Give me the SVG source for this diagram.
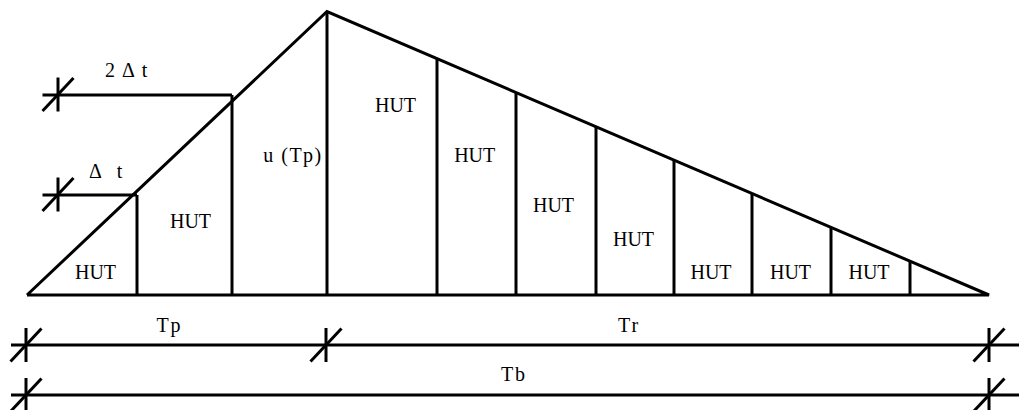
<svg xmlns="http://www.w3.org/2000/svg" width="1019" height="410" viewBox="0 0 1019 410">
<style>
.ln{stroke:#000;stroke-width:3;fill:none}
.tx{font-family:"Liberation Serif","Times New Roman",serif;font-size:20px;fill:#000}
.c{text-anchor:middle}
</style>
<defs>
<g id="tick"><line class="ln" x1="0" y1="-17" x2="0" y2="17"/><line class="ln" x1="-15.5" y1="16.5" x2="15.5" y2="-16.5"/></g>
</defs>
<rect width="1019" height="410" fill="#fff"/>
<g id="hydrograph">
<polyline class="ln" points="27,295 327,11.5 989,295 27,295"/>
</g>
<g id="ordinates">
<line class="ln" x1="137" y1="195" x2="137" y2="295"/>
<line class="ln" x1="232" y1="95" x2="232" y2="295"/>
<line class="ln" x1="327" y1="11.5" x2="327" y2="295"/>
<line class="ln" x1="437" y1="59" x2="437" y2="295"/>
<line class="ln" x1="516" y1="93" x2="516" y2="295"/>
<line class="ln" x1="596" y1="127" x2="596" y2="295"/>
<line class="ln" x1="674" y1="160" x2="674" y2="295"/>
<line class="ln" x1="752" y1="194" x2="752" y2="295"/>
<line class="ln" x1="831" y1="227.5" x2="831" y2="295"/>
<line class="ln" x1="910" y1="261" x2="910" y2="295"/>
</g>
<g id="dt-marks">
<line class="ln" x1="42.5" y1="95" x2="232" y2="95"/>
<use href="#tick" x="58" y="94.5"/>
<line class="ln" x1="42.5" y1="195" x2="137" y2="195"/>
<use href="#tick" x="58" y="194.5"/>
</g>
<g id="dimensions">
<line class="ln" x1="11" y1="345" x2="1019" y2="345"/>
<use href="#tick" x="26" y="345"/>
<use href="#tick" x="326" y="345"/>
<use href="#tick" x="989" y="345"/>
<line class="ln" x1="11" y1="395" x2="1019" y2="395"/>
<use href="#tick" x="26" y="395"/>
<use href="#tick" x="989" y="395"/>
</g>
<g id="labels">
<text class="tx c" x="95.5" y="279">HUT</text>
<text class="tx c" x="190.5" y="228">HUT</text>
<text class="tx c" x="293" y="162" letter-spacing="1.5">u (Tp)</text>
<text class="tx" x="105" y="77" letter-spacing="1.5" xml:space="preserve">2 Δ t</text>
<text class="tx" x="89" y="178" letter-spacing="2" xml:space="preserve">Δ  t</text>
<text class="tx c" x="395.5" y="112">HUT</text>
<text class="tx c" x="474.7" y="162">HUT</text>
<text class="tx c" x="553.5" y="212">HUT</text>
<text class="tx c" x="633.5" y="246">HUT</text>
<text class="tx c" x="711" y="279">HUT</text>
<text class="tx c" x="790.5" y="279">HUT</text>
<text class="tx c" x="869" y="279">HUT</text>
<text class="tx c" x="169.5" y="332" letter-spacing="2">Tp</text>
<text class="tx c" x="629" y="332" letter-spacing="2">Tr</text>
<text class="tx c" x="514" y="381" letter-spacing="2">Tb</text>
</g>
</svg>
